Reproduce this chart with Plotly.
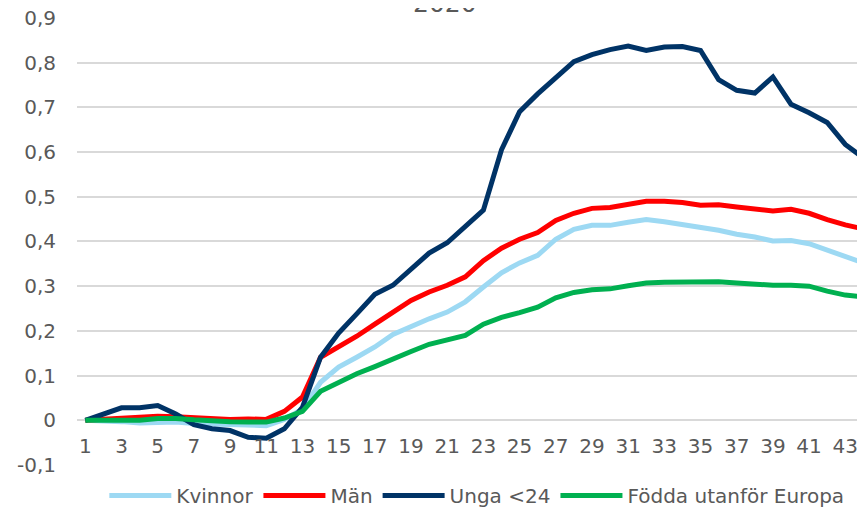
import plotly.graph_objects as go

# week numbers
weeks = list(range(1, 45))

kvinnor = [0, -0.001, -0.003, -0.006, -0.004, -0.004, -0.007, -0.008, -0.010, -0.012,
           -0.012, 0.002, 0.025, 0.085, 0.119, 0.141, 0.164, 0.192, 0.210, 0.227,
           0.242, 0.265, 0.298, 0.330, 0.352, 0.369, 0.405, 0.427, 0.436, 0.436,
           0.443, 0.449, 0.444, 0.438, 0.430, 0.425, 0.416, 0.410, 0.401, 0.402,
           0.395, 0.380, 0.365, 0.352]
man = [0, 0.002, 0.004, 0.006, 0.009, 0.008, 0.006, 0.004, 0.002, 0.003,
       0.002, 0.020, 0.052, 0.141, 0.164, 0.188, 0.215, 0.242, 0.268, 0.287,
       0.302, 0.321, 0.357, 0.385, 0.405, 0.420, 0.447, 0.463, 0.474, 0.476,
       0.482, 0.490, 0.490, 0.487, 0.481, 0.482, 0.477, 0.472, 0.468, 0.472,
       0.463, 0.449, 0.437, 0.428]
unga = [0, 0.013, 0.028, 0.028, 0.033, 0.014, -0.010, -0.019, -0.023, -0.038,
        -0.040, -0.019, 0.029, 0.141, 0.195, 0.238, 0.282, 0.302, 0.339, 0.374,
        0.397, 0.433, 0.470, 0.605, 0.690, 0.730, 0.765, 0.802, 0.818, 0.829,
        0.837, 0.827, 0.835, 0.836, 0.827, 0.762, 0.738, 0.732, 0.768, 0.707,
        0.688, 0.666, 0.617, 0.587]
fodda = [0, 0, 0.001, 0, 0.004, 0.004, 0.001, -0.002, -0.003, -0.004,
         -0.004, 0.005, 0.020, 0.065, 0.085, 0.104, 0.120, 0.138, 0.154, 0.170,
         0.179, 0.190, 0.215, 0.230, 0.241, 0.253, 0.274, 0.286, 0.292, 0.294,
         0.301, 0.307, 0.309, 0.310, 0.309, 0.310, 0.307, 0.304, 0.302, 0.302,
         0.300, 0.289, 0.280, 0.276]

series_names = ["Kvinnor", "Män", "Unga <24", "Födda utanför Europa"]
series_colors = ["#9DD9F3", "#FF0000", "#003366", "#00B050"]

y_ticks = [-0.1, 0, 0.1, 0.2, 0.3, 0.4, 0.5, 0.6, 0.7, 0.8, 0.9]
y_labels = ["-0,1", "0", "0,1", "0,2", "0,3", "0,4", "0,5", "0,6", "0,7", "0,8", "0,9"]
x_ticks = list(range(1, 44, 2))

fig = go.Figure()
for name, vals, col in zip(series_names, [kvinnor, man, unga, fodda], series_colors):
    fig.add_trace(go.Scatter(x=weeks, y=vals, name=name, mode="lines",
                             line=dict(color=col, width=5), hoverinfo="skip"))

# page body has an 8px margin, so the plot area is shifted by -8 to line up
font = "DejaVu Sans, Verdana, sans-serif"
fig.update_layout(
    width=865, height=507,
    margin=dict(l=69, r=8, t=9, b=50, autoexpand=False),
    plot_bgcolor="white", paper_bgcolor="white",
    font=dict(family=font, size=20, color="#595959"),
    xaxis=dict(range=[0.54, 44.09], tickvals=x_ticks, showgrid=False, zeroline=False,
               anchor="free", position=0.1, showline=False, ticks="", automargin=False,
               ticklabelstandoff=12, ticklabeloverflow="allow",
               tickfont=dict(size=20, color="#595959")),
    yaxis=dict(range=[-0.1, 0.902], tickvals=y_ticks, ticktext=y_labels, automargin=False,
               showgrid=True, gridcolor="#D9D9D9", gridwidth=1.5, zeroline=False,
               ticklabelstandoff=20, ticklabeloverflow="allow",
               tickfont=dict(size=20, color="#595959")),
    legend=dict(orientation="h", xref="container", yref="container",
                x=0.542, xanchor="center", y=0, yanchor="bottom",
                font=dict(size=20, color="#595959"), itemwidth=62,
                bgcolor="rgba(0,0,0,0)"),
    annotations=[dict(text="2020", xref="paper", yref="paper", x=(445 - 77) / 788,
                      y=1.031, xanchor="center", yanchor="middle", showarrow=False,
                      font=dict(size=25, color="#595959"))],
)

fig.write_html("out.html")
